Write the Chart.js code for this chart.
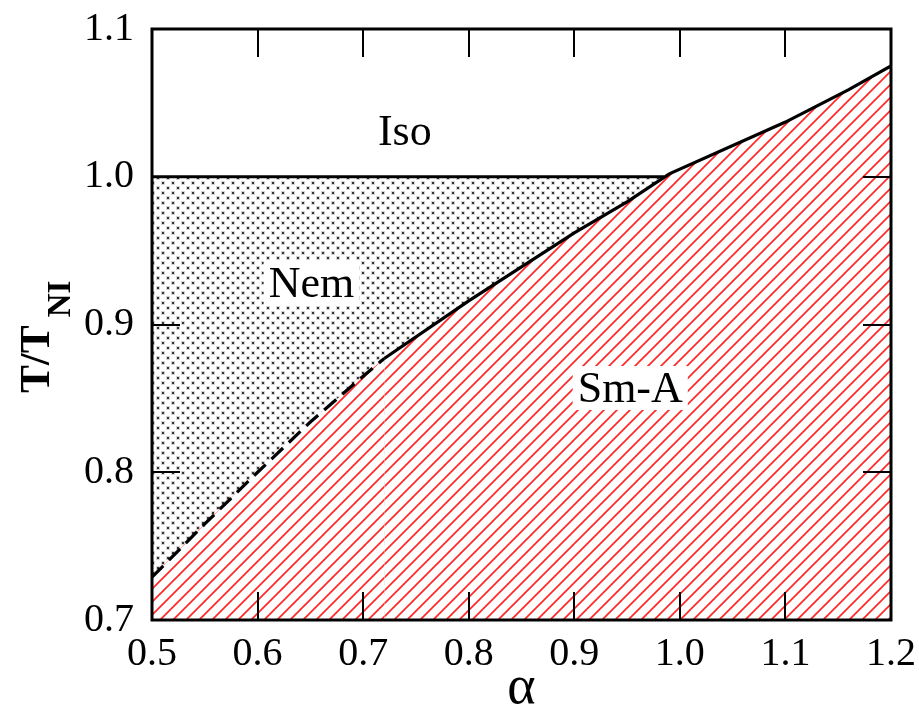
<!DOCTYPE html>
<html>
<head>
<meta charset="utf-8">
<script src="https://cdn.jsdelivr.net/npm/chart.js@4.4.1/dist/chart.umd.min.js"></script>
<style>
  html, body { margin: 0; padding: 0; background: #fff; }
  #wrap { width: 919px; height: 706px; }
</style>
</head>
<body>
<div id="wrap"><canvas id="phase"></canvas></div>
<script>
// phase boundary (Nem/Iso -> Sm-A)
const alphaBoundary = [0.5, 0.55, 0.6, 0.65, 0.7, 0.72, 0.8, 0.9, 0.95, 0.99, 1.1, 1.16, 1.2];
const tBoundary     = [0.729, 0.765, 0.8, 0.834, 0.865, 0.877, 0.916, 0.962, 0.983, 1.002, 1.037, 1.059, 1.075];
// dashed up to here
const dashedUpTo = 0.72;

// nematic-isotropic line
const alphaNI = [0.5, 0.985];
const tNI = [1.0, 1.0];

// axes
const xTicks = [0.5, 0.6, 0.7, 0.8, 0.9, 1.0, 1.1, 1.2];
const yTicks = [0.7, 0.8, 0.9, 1.0, 1.1];

// region labels [text, alpha, T, white box]
const regionLabels = [
    ["Iso", 0.7395, 1.031, false],
    ["Nem", 0.651, 0.928, true],
    ["Sm-A", 0.953, 0.857, true]
];

const serif = "'Liberation Serif', 'DejaVu Serif', serif";

function toPoints(xs, ys) {
    return xs.map((x, i) => ({ x: x, y: ys[i] }));
}

// red diagonal hatch on white
function hatchPattern() {
    const c = document.createElement('canvas');
    const s = 13;
    c.width = s; c.height = s;
    const g = c.getContext('2d');
    g.fillStyle = '#fff';
    g.fillRect(0, 0, s, s);
    g.strokeStyle = '#ff2828';
    g.lineWidth = 1.7;
    g.beginPath();
    g.moveTo(-2, s + 2); g.lineTo(s + 2, -2);
    g.moveTo(-2, 2); g.lineTo(2, -2);
    g.moveTo(s - 2, s + 2); g.lineTo(s + 2, s - 2);
    g.stroke();
    return g.createPattern(c, 'repeat');
}

// grey dots
function dotPattern() {
    const c = document.createElement('canvas');
    const s = 10;
    c.width = s; c.height = s;
    const g = c.getContext('2d');
    g.fillStyle = '#fff';
    g.fillRect(0, 0, s, s);
    [[2, 2], [7, 7]].forEach(p => {
        g.fillStyle = '#d4d4d4';
        g.fillRect(p[0] - 1, p[1] - 1, 4, 4);
        g.fillStyle = '#333';
        g.fillRect(p[0], p[1], 2, 2);
    });
    return g.createPattern(c, 'repeat');
}

// frame, inward ticks on all sides, labels and axis titles
const decorations = {
    id: 'decorations',
    afterDatasetsDraw(chart) {
        const ctx = chart.ctx;
        const a = chart.chartArea;
        const xs = chart.scales.x, ys = chart.scales.y;
        const tl = 28;
        ctx.save();
        ctx.strokeStyle = '#000';
        ctx.lineWidth = 2;
        ctx.beginPath();
        xTicks.forEach(v => {
            const px = Math.round(xs.getPixelForValue(v));
            ctx.moveTo(px, a.bottom); ctx.lineTo(px, a.bottom - tl);
            ctx.moveTo(px, a.top); ctx.lineTo(px, a.top + tl);
        });
        yTicks.forEach(v => {
            const py = Math.round(ys.getPixelForValue(v));
            ctx.moveTo(a.left, py); ctx.lineTo(a.left + tl, py);
            ctx.moveTo(a.right, py); ctx.lineTo(a.right - tl, py);
        });
        ctx.stroke();
        ctx.lineWidth = 3;
        ctx.strokeRect(a.left, a.top, a.right - a.left, a.bottom - a.top);

        // region labels
        ctx.font = '44px ' + serif;
        ctx.textAlign = 'center';
        ctx.textBaseline = 'middle';
        regionLabels.forEach(l => {
            const px = xs.getPixelForValue(l[1]);
            const py = ys.getPixelForValue(l[2]);
            if (l[3]) {
                const w = ctx.measureText(l[0]).width + 10;
                ctx.fillStyle = '#fff';
                ctx.fillRect(px - w / 2, py - 22, w, 44);
            }
            ctx.fillStyle = '#000';
            ctx.fillText(l[0], px, py + 2);
        });

        // x title
        ctx.font = '54px ' + serif;
        ctx.textBaseline = 'alphabetic';
        ctx.fillText('α', (a.left + a.right) / 2, 703);

        // y title T/T_NI
        ctx.translate(49, 393);
        ctx.rotate(-Math.PI / 2);
        ctx.textAlign = 'left';
        ctx.font = 'bold 42px ' + serif;
        ctx.fillText('T/T', 0, 0);
        const w = ctx.measureText('T/T').width;
        ctx.font = 'bold 33px ' + serif;
        ctx.fillText('NI', w + 8, 21);
        ctx.restore();
    }
};

function noOverflow(s) {
    s.paddingTop = 0; s.paddingBottom = 0;
    s.paddingLeft = 0; s.paddingRight = 0;
}

document.addEventListener("DOMContentLoaded", function() {
    drawPhaseDiagram();
});

function drawPhaseDiagram() {
    const ctx = document.getElementById('phase').getContext('2d');
    new Chart(ctx, {
        type: 'line',
        data: {
            datasets: [
                {
                    label: 'Sm-A',
                    data: toPoints(alphaBoundary, tBoundary),
                    borderColor: '#000',
                    borderWidth: 3.2,
                    pointRadius: 0,
                    pointHoverRadius: 0,
                    tension: 0,
                    fill: 'start',
                    backgroundColor: hatchPattern(),
                    order: 0,
                    segment: {
                        borderDash: c => c.p1.parsed.x <= dashedUpTo + 1e-9 ? [16, 8] : undefined
                    }
                },
                {
                    label: 'Nem',
                    data: toPoints(alphaNI, tNI),
                    borderColor: '#000',
                    borderWidth: 3.2,
                    pointRadius: 0,
                    pointHoverRadius: 0,
                    fill: 'start',
                    backgroundColor: dotPattern(),
                    order: 1
                }
            ]
        },
        options: {
            responsive: true,
            maintainAspectRatio: false,
            animation: false,
            layout: { autoPadding: false, padding: { left: 0, top: 29, right: 28, bottom: 0 } },
            plugins: {
                legend: { display: false },
                tooltip: { enabled: false }
            },
            scales: {
                x: {
                    type: 'linear',
                    min: 0.5, max: 1.2,
                    grid: { display: false, drawTicks: false },
                    border: { display: false },
                    afterBuildTicks: s => { s.ticks = xTicks.map(v => ({ value: v })); },
                    afterFit: s => { s.height = 86; noOverflow(s); },
                    ticks: {
                        color: '#000',
                        font: { family: serif, size: 40 },
                        padding: 10,
                        maxRotation: 0,
                        callback: v => v.toFixed(1)
                    }
                },
                y: {
                    type: 'linear',
                    min: 0.7, max: 1.1,
                    grid: { display: false, drawTicks: false },
                    border: { display: false },
                    afterBuildTicks: s => { s.ticks = yTicks.map(v => ({ value: v })); },
                    afterFit: s => { s.width = 152; noOverflow(s); },
                    ticks: {
                        color: '#000',
                        font: { family: serif, size: 40 },
                        padding: 18,
                        callback: v => v.toFixed(1)
                    }
                }
            }
        },
        plugins: [decorations]
    });
}
</script>
</body>
</html>
